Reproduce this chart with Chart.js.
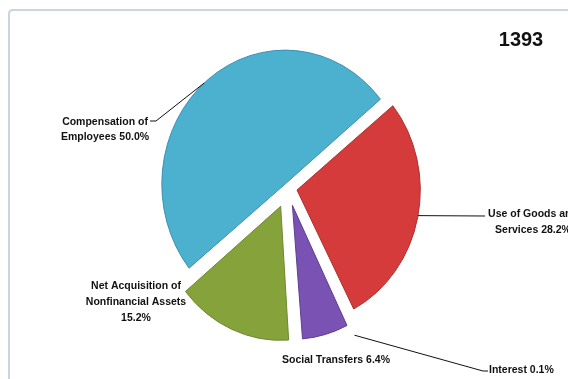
<!DOCTYPE html>
<html>
<head>
<meta charset="utf-8">
<script src="https://cdn.jsdelivr.net/npm/chart.js@4.4.1/dist/chart.umd.min.js"></script>
<style>
  html, body { margin: 0; padding: 0; background: #fff; }
  #wrap { position: relative; width: 568px; height: 379px; }
</style>
</head>
<body>
<div id="wrap"><canvas id="spendChart" width="568" height="379"></canvas></div>
<script>
const chartTitle = '1393';
const categories = [
    'Use of Goods and Services',
    'Interest',
    'Social Transfers',
    'Net Acquisition of Nonfinancial Assets',
    'Compensation of Employees'
];
const shares = [28.2, 0.1, 6.4, 15.2, 50.0];
// line breaks for each slice label, {v} becomes the share
const labelLines = [
    ['Use of Goods and', 'Services {v}'],
    ['Interest {v}'],
    ['Social Transfers {v}'],
    ['Net Acquisition of', 'Nonfinancial Assets', '{v}'],
    ['Compensation of', 'Employees {v}']
];

const sliceColors = ['#d63b3b', '#f79646', '#7a52b3', '#86a33b', '#4cb0cf'];
const sliceEdges = ['#a82c2c', '#f79646', '#5b3a90', '#6a8530', '#3a8db0'];
const sliceBorders = [1, 0, 1, 1, 1];
const explode = [40, 80, 72, 80, 20];

// the pie is drawn a little narrower than it is tall
const pieSquash = 0.92;

// where each label sits and how its leader line runs
const labelLayout = [
    { x: 533, y: 214, lh: 16, align: 'center', anchorAngle: 11, path: [[485, 216]] },
    { x: 489, y: 370, lh: 15, align: 'left', anchorAngle: 64, anchorGap: 10, path: [[483, 371], [488, 371]] },
    { x: 336, y: 360, lh: 15, align: 'center' },
    { x: 136, y: 286, lh: 16, align: 'center' },
    { x: 105, y: 122, lh: 15, align: 'center', anchorAngle: -131, path: [[156, 121], [150, 121]] }
];

// ArcElement moves an exploded slice by offset / 4 and also widens it;
// this gives back the extra radius so every slice keeps the same size
function sliceShift(arc) {
    const shift = (arc.options.offset || 0) / 4;
    const grow = shift * (1 - Math.sin(Math.min(Math.PI, arc.circumference)));
    return { shift, grow };
}

const evenRadius = {
    id: 'evenRadius',
    afterDatasetsUpdate(chart) {
        chart.getDatasetMeta(0).data.forEach(arc => {
            arc.outerRadius -= sliceShift(arc).grow;
        });
    }
};

const squash = {
    id: 'squash',
    beforeDatasetsDraw(chart) {
        const c = chart.ctx;
        const cx = chart.getDatasetMeta(0).data[0].x;
        c.save();
        c.translate(cx, 0);
        c.scale(pieSquash, 1);
        c.translate(-cx, 0);
    },
    afterDatasetsDraw(chart) {
        chart.ctx.restore();
    }
};

// thin frame around the plot
const frame = {
    id: 'frame',
    beforeDraw(chart) {
        const c = chart.ctx;
        c.save();
        c.strokeStyle = '#c9d5e1';
        c.lineWidth = 2;
        c.beginPath();
        c.moveTo(9, 400);
        c.lineTo(9, 14);
        c.quadraticCurveTo(9, 10, 13, 10);
        c.lineTo(600, 10);
        c.stroke();
        c.restore();
    }
};

const sliceLabels = {
    id: 'sliceLabels',
    afterDatasetsDraw(chart) {
        const ctx = chart.ctx;
        const meta = chart.getDatasetMeta(0);
        ctx.save();
        ctx.font = 'bold 10.5px "Liberation Sans", Arial, sans-serif';
        ctx.fillStyle = '#111';
        ctx.strokeStyle = '#111';
        ctx.lineWidth = 1;
        ctx.textBaseline = 'middle';
        meta.data.forEach((arc, i) => {
            const lay = labelLayout[i];
            const p = arc.getProps(['x', 'y', 'startAngle', 'endAngle', 'outerRadius']);
            const { shift, grow } = sliceShift(arc);
            const mid = (p.startAngle + p.endAngle) / 2;
            if (lay.path) {
                const a = lay.anchorAngle * Math.PI / 180;
                const r = p.outerRadius + grow + (lay.anchorGap || 0);
                const ux = p.x + Math.cos(mid) * shift + Math.cos(a) * r;
                const uy = p.y + Math.sin(mid) * shift + Math.sin(a) * r;
                ctx.beginPath();
                ctx.moveTo(p.x + (ux - p.x) * pieSquash, uy);
                lay.path.forEach(pt => ctx.lineTo(pt[0], pt[1]));
                ctx.stroke();
            }
            ctx.textAlign = lay.align;
            labelLines[i].forEach((line, k) => {
                ctx.fillText(line.replace('{v}', shares[i].toFixed(1) + '%'), lay.x, lay.y + k * lay.lh);
            });
        });
        ctx.font = 'bold 20px "Liberation Sans", Arial, sans-serif';
        ctx.textAlign = 'center';
        ctx.fillText(chartTitle, 521, 40);
        ctx.restore();
    }
};

const ctx = document.getElementById('spendChart').getContext('2d');
const spendChart = new Chart(ctx, {
    type: 'pie',
    data: {
        labels: categories,
        datasets: [{
            data: shares,
            backgroundColor: sliceColors,
            borderColor: sliceEdges,
            borderWidth: sliceBorders,
            offset: explode,
            hoverOffset: 0
        }]
    },
    options: {
        responsive: false,
        animation: false,
        events: [],
        rotation: 51,
        radius: 134,
        layout: {
            padding: { left: 8, bottom: 3 }
        },
        plugins: {
            legend: { display: false },
            tooltip: { enabled: false }
        }
    },
    plugins: [evenRadius, frame, squash, sliceLabels]
});
</script>
</body>
</html>
